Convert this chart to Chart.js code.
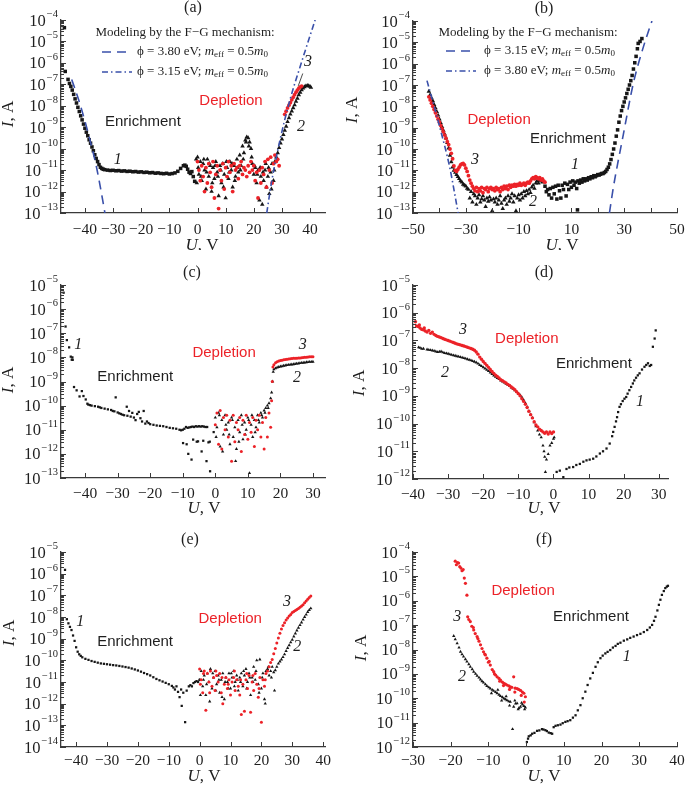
<!DOCTYPE html>
<html>
<head>
<meta charset="utf-8">
<script src="https://cdn.jsdelivr.net/npm/chart.js@4.4.1/dist/chart.umd.min.js"></script>
<style>
  body { margin: 0; background: #fff; }
  #wrap { position: relative; width: 685px; height: 787px; }
  canvas { position: absolute; }
</style>
</head>
<body>
<div id="wrap">
  <canvas id="pa" width="342" height="250" style="left:0;top:0"></canvas>
  <canvas id="pb" width="343" height="250" style="left:342px;top:0"></canvas>
  <canvas id="pc" width="342" height="270" style="left:0;top:250px"></canvas>
  <canvas id="pd" width="343" height="270" style="left:342px;top:250px"></canvas>
  <canvas id="pe" width="342" height="267" style="left:0;top:520px"></canvas>
  <canvas id="pf" width="343" height="267" style="left:342px;top:520px"></canvas>
</div>
<script>
// ---- data: [U (V), I (A)] ----

// (a)
const fitA_left = [[-44.7,1.7e-7],[-41.8,1.26e-8],[-38.2,2.5e-10],[-35.9,1.4e-11],[-34.1,8e-13],[-32.9,1e-13]];
const fitA_right = [[24.6,1e-13],[26.4,3.2e-12],[29.3,2.5e-10],[32.9,2e-8],[36.4,6.3e-7],[41.8,1e-4]];
const a1 = [[-47.3,4.4e-5],[-47.0,4.0e-7],[-46.0,1.7e-7],[-45.5,1.1e-7],[-45.0,8.0e-8],[-44.5,5.4e-8],[-44.0,3.4e-8],
  [-43.5,2.1e-8],[-43.0,1.35e-8],[-42.5,8.5e-9],[-42.0,5.4e-9],[-41.5,3.4e-9],[-41.0,2.2e-9],[-40.5,1.4e-9],[-40.0,9.0e-10],
  [-39.5,5.9e-10],[-39.0,4.0e-10],[-38.5,2.6e-10],[-38.0,1.8e-10],[-37.5,1.2e-10],[-37.0,8.0e-11],[-36.5,5.2e-11],[-36.0,3.5e-11],
  [-35.5,2.5e-11],[-35.0,1.8e-11],[-34.5,1.35e-11],[-34.0,1.2e-11],[-33.5,1.1e-11],[-33.0,1.05e-11],[-32.0,1.0e-11],[-31.0,9.6e-12],
  [-30.0,9.8e-12],[-29.0,9.3e-12],[-28.0,9.5e-12],[-27.0,9.0e-12],[-26.0,9.2e-12],[-25.0,8.7e-12],[-24.0,8.9e-12],[-23.0,8.4e-12],
  [-22.0,8.6e-12],[-21.0,8.1e-12],[-20.0,8.3e-12],[-19.0,7.8e-12],[-18.0,8.0e-12],[-17.0,7.5e-12],[-16.0,7.7e-12],[-15.0,7.2e-12],
  [-14.0,7.4e-12],[-13.0,7.0e-12],[-12.0,6.8e-12],[-11.0,7.1e-12],[-10.0,6.6e-12],[-9.0,6.9e-12],[-8.0,7.4e-12],[-7.0,8.8e-12],
  [-6.0,1.2e-11],[-5.0,1.6e-11],[-4.5,1.7e-11],[-4.0,1.5e-11],[-3.5,1.1e-11],[-3.0,8.0e-12],[-2.5,7.0e-12],[-2.0,8.5e-12],
  [-1.5,5.0e-12],[-1.0,3.0e-12]];
const a2 = [[-0.5,3.2e-11],[-0.25,2.5e-12],[0,4.0e-11],[0.5,6.3e-12],[1,2.5e-11],[1.5,3.2e-12],[2,2.0e-11],[2.5,1.0e-11],[3,1.3e-12],
  [3.5,3.2e-11],[4,5.0e-12],[4.5,1.6e-11],[5,1.0e-12],[5.5,1.3e-11],[6,4.0e-12],[6.5,2.5e-11],[7,7.9e-12],[7.5,6.3e-13],
  [8,1.6e-11],[8.5,2.5e-12],[9,2.0e-11],[9.5,6.3e-12],[10,5.0e-13],[10.5,1.3e-11],[11,4.0e-12],[11.5,2.5e-11],[12,1.0e-11],
  [12.5,1.6e-12],[13,1.6e-11],[13.5,5.0e-12],[14,3.2e-11],[14.5,7.9e-12],[15,5.0e-11],[15.5,1.6e-11],[16,1.3e-10],[16.5,6.3e-11],
  [17,2.5e-10],[17.5,3.5e-10],[18,3.2e-10],[18.5,2.0e-10],[19,1.0e-10],[19.5,2.0e-11],[20,6.3e-12],[20.5,1.3e-11],[21,2.5e-12],
  [21.5,1.0e-11],[22,4.0e-13],[22.5,5.0e-12],[23,2.5e-13],[23.5,3.2e-12],[24,1.0e-11],[24.5,1.6e-12],[25,5.0e-12],[25.5,7.9e-13],
  [26,7.9e-12],[26.5,2.0e-11],[27,3.2e-12],[27.5,2.5e-11],[28,4.0e-11],[28.5,6.3e-11],[29,1.1e-10],[29.5,1.8e-10],[30,2.8e-10],
  [30.5,4.5e-10],[31,7.1e-10],[31.5,1.1e-9],[32,1.8e-9],[32.5,2.7e-9],[33,4.0e-9],[33.5,5.6e-9],[34,7.9e-9],[34.5,1.1e-8],
  [35,1.6e-8],[35.5,2.2e-8],[36,3.2e-8],[36.5,4.2e-8],[37,5.4e-8],[37.5,6.6e-8],[38,7.6e-8],[38.5,8.3e-8],[39,8.7e-8],
  [39.5,8.5e-8],[40,7.9e-8],[40.3,7.1e-8],
  [0.25,1.3e-11],[1.25,5e-12],[2.25,3.2e-11],[3.25,7.9e-12],[4.25,2e-11],[5.25,2.5e-12],[6.25,1.6e-11],[7.25,5e-12],[8.25,1e-11],
  [9.25,1.6e-12],[10.25,2.5e-11],[11.25,7.9e-12],[12.25,2e-11],[13.25,3.2e-12],[14.25,1.3e-11],[15.25,1e-11],[16.25,3.2e-11],
  [17.25,2e-10],[18.25,1.3e-10],[19.25,4e-11],[20.25,1.6e-11],[21.25,6.3e-12],[22.25,1.3e-11],[23.25,7.9e-12],[24.25,2e-11],
  [25.25,1.3e-11],[26.25,1.3e-12],[27.25,1e-11]];
const a3 = [[0,2.5e-11],[0.5,1e-11],[1,3.2e-12],[1.5,1.6e-11],[2,5e-12],[2.5,1e-12],[3,1.3e-11],[3.5,2.5e-12],[4,2e-11],
  [4.5,7.9e-12],[5,1.6e-12],[5.5,2.5e-11],[6,5e-13],[6.5,6.3e-12],[7,1.6e-11],[7.5,1.6e-13],[8,1e-11],[8.5,3.2e-12],[9,2e-11],
  [9.5,1.3e-12],[10,1.3e-11],[10.5,5e-12],[11,2.5e-11],[11.5,7.9e-12],[12,1.6e-11],[12.5,1e-12],[13,2e-11],[13.5,1e-11],
  [14,1.3e-11],[14.5,4e-12],[15,1.6e-11],[15.5,2.5e-11],[16,6.3e-12],[16.5,1.3e-11],[17,1e-11],[17.5,5e-12],[18,1.6e-11],
  [18.5,7.9e-12],[19,2.5e-11],[19.5,1e-11],[20,1.6e-11],[20.5,3.2e-12],[21,7.9e-12],[21.5,5e-13],[22,1e-11],[22.5,2.5e-12],
  [23,1.3e-11],[23.5,6.3e-12],[24,2.5e-11],[24.5,1.6e-12],[25,3.2e-11],[25.5,1e-11],[26,4e-11],[26.5,2.5e-12],[27,2e-11],
  [27.5,5e-11],[28,2.5e-11],[28.5,3.2e-11],[29,1.6e-11],
  [31,4e-9],[31.5,5.6e-9],[32,7.9e-9],[32.5,1.07e-8],[33,1.4e-8],[33.5,1.9e-8],[34,2.5e-8],[34.5,3.3e-8],[35,4.3e-8],
  [35.5,5.4e-8],[36,6.6e-8],[36.5,7.6e-8],[37,8.3e-8]];

// (b)
const fitB_left = [[-44.7,1.6e-7],[-42.3,1.35e-8],[-39.9,1.1e-9],[-36.1,1.4e-11],[-32.9,1e-13]];
const fitB_right = [[24.4,1e-13],[25.9,1.6e-12],[29.7,5e-10],[33.5,1.26e-7],[37.3,6.3e-6],[40.5,1e-4]];
const b1 = [[0,1.8e-12],[0.5,1e-12],[1,1.26e-12],[1.5,7.1e-13],[2,1.4e-12],[2.5,5e-13],[3,1.6e-12],[3.5,7.9e-13],[4,1.8e-12],
  [4.5,4.5e-13],[5,2e-12],[5.5,1.1e-12],[6,5e-13],[6.5,2e-12],[7,1.26e-12],[7.5,2.5e-12],[8,6.3e-13],[8.5,2.2e-12],[9,1.26e-12],
  [9.5,2.8e-12],[10,1.6e-12],[10.5,3.2e-12],[11,2e-12],[11.5,2.8e-12],[12,1.4e-12],[12.3,1.4e-13],[12.5,3.2e-12],[13,2.5e-12],
  [13.5,3.5e-12],[14,2.8e-12],[14.5,4e-12],[15,3.2e-12],[15.5,4e-12],[16,3.5e-12],[16.5,4.5e-12],[17,4e-12],[17.5,5e-12],
  [18,4.5e-12],[18.5,5.6e-12],[19,5e-12],[19.5,5.6e-12],[20,6.3e-12],[20.5,6e-12],[21,6.6e-12],[21.5,7.1e-12],[22,7.1e-12],
  [22.5,7.9e-12],[23,8.9e-12],[23.5,1.1e-11],[24,1.4e-11],[24.5,2e-11],[25,3.2e-11],[25.5,5.6e-11],[26,1e-10],[26.5,1.9e-10],
  [27,4e-10],[27.5,7.9e-10],[28,1.8e-9],[28.5,3.5e-9],[29,6.3e-9],[29.5,1e-8],[30,1.6e-8],[30.5,2.5e-8],[31,4e-8],[31.5,6.3e-8],
  [32,1e-7],[32.5,1.6e-7],[33,2.8e-7],[33.5,5.6e-7],[34,1.1e-6],[34.5,2.2e-6],[35,5e-6],[35.3,8.9e-6],[36,1.1e-5],[36.7,1.5e-5]];
const b2 = [[-44,5e-8],[-43.5,3.5e-8],[-43,2.5e-8],[-42.5,1.8e-8],[-42,1.2e-8],[-41.5,8.3e-9],[-41,5.6e-9],[-40.5,3.8e-9],
  [-40,2.5e-9],[-39.5,1.66e-9],[-39,1.1e-9],[-38.5,7.4e-10],[-38,5e-10],[-37.5,3.2e-10],[-37,2e-10],[-36.5,1.1e-10],[-36,5e-11],
  [-35.5,2.5e-11],[-35,1.4e-11],[-34.5,1e-11],[-34,7.9e-12],[-33.5,6.3e-12],[-33,5e-12],[-32.5,4e-12],[-32,3.2e-12],[-31.5,2.8e-12],
  [-31,2.2e-12],[-30.5,2e-12],[-30,1.8e-12],[-29.5,1.4e-12],[-29,1.26e-12],[-28,1e-12],[-27,7.9e-13],
  [-28.5,5e-13],[-27.5,3.2e-13],[-26.5,6.3e-13],[-26,2.5e-13],[-25.5,5e-13],[-25,7.1e-13],[-24.5,3.2e-13],[-24,4.5e-13],
  [-23.5,6.3e-13],[-23,4e-13],[-22.5,2e-13],[-22,5e-13],[-21.5,3.5e-13],[-21,5.6e-13],[-20.5,4e-13],[-20,1.26e-13],[-19.5,4.5e-13],
  [-19,3.2e-13],[-18.5,5e-13],[-18,2.5e-13],[-17.5,4e-13],[-17,6.3e-13],[-16.5,2.8e-13],[-16,1.6e-13],[-15.5,4e-13],[-15,5e-13],
  [-14.5,2.5e-13],[-14,6.3e-13],[-13.5,3.5e-13],[-13,5e-13],[-12.5,7.9e-13],[-12,3.2e-13],[-11.5,6.3e-13],[-11,1.26e-13],
  [-10.5,5e-13],[-10,7.1e-13],[-9.5,4e-13],[-9,7.9e-13],[-8.5,5e-13],[-8,1e-12],[-7.5,6.3e-13],[-7,1.1e-12],[-6.5,7.9e-13],
  [-6,1.26e-12],[-5.5,8.9e-13],[-5,1.6e-12],[-4.5,2e-12],[-4,1.4e-12],[-3.5,2.5e-12],[-3,3.2e-12],[-2.5,2.5e-12],[-2,3.5e-12],
  [-1.5,3.2e-12],[-1,2.8e-12]];
const b3 = [[-44,2.8e-8],[-43.5,2e-8],[-43,1.4e-8],[-42.5,1e-8],[-42,7.1e-9],[-41.5,5e-9],[-41,3.5e-9],[-40.5,2.5e-9],[-40,1.8e-9],
  [-39.5,1.26e-9],[-39,8.9e-10],[-38.5,6.3e-10],[-38,4.5e-10],[-37.5,3.2e-10],[-37,2.2e-10],[-36.5,1.6e-10],[-36,1e-10],
  [-35.5,6.3e-11],[-35,3.5e-11],[-34.5,1.6e-11],[-34,1e-11],[-33.5,8.9e-12],[-33,1.1e-11],[-32.5,1.4e-11],[-32,1.8e-11],
  [-31.5,2e-11],[-31,2.1e-11],[-30.5,1.8e-11],[-30,1.26e-11],[-29.5,8.9e-12],[-29,5.6e-12],[-28.5,3.5e-12],[-28,2.5e-12],
  [-27.5,1.8e-12],[-27,1.4e-12],[-26.5,1.1e-12],[-26,1.6e-12],[-25.5,1e-12],[-25,1.4e-12],[-24.5,1.1e-12],[-24,1.6e-12],
  [-23.5,8.9e-13],[-23,1.4e-12],[-22.5,1.26e-12],[-22,1.6e-12],[-21.5,1e-12],[-21,1.4e-12],[-20.5,1.6e-12],[-20,1.26e-12],
  [-19.5,1.4e-12],[-19,1.1e-12],[-18.5,1.6e-12],[-18,1.26e-12],[-17.5,1.4e-12],[-17,1e-12],[-16.5,1.6e-12],[-16,1.26e-12],
  [-15.5,1.8e-12],[-15,1.4e-12],[-14.5,1.8e-12],[-14,1.26e-12],[-13.5,2e-12],[-13,1.6e-12],[-12.5,2e-12],[-12,1.8e-12],
  [-11.5,2.2e-12],[-11,1.8e-12],[-10.5,2.2e-12],[-10,2e-12],[-9.5,2.5e-12],[-9,2e-12],[-8.5,2.2e-12],[-8,2.5e-12],[-7.5,2e-12],
  [-7,2.5e-12],[-6.5,2.8e-12],[-6,2.5e-12],[-5.5,3.2e-12],[-5,4e-12],[-4.5,4.5e-12],[-4,4e-12],[-3.5,5e-12],[-3,4.5e-12],
  [-2.5,4e-12],[-2,4.5e-12],[-1.5,3.5e-12],[-1,4e-12],[-0.5,3.2e-12],[0,2.8e-12]];

// (c)
const c1 = [[-46.6,4.8e-6],[-46.0,1.9e-7],[-45.6,5.2e-8],[-44.9,2.6e-8],[-44.4,1.07e-8],[-44.1,8e-9],[-43.8,7.9e-9],[-43.9,1e-8],
  [-43.4,5.9e-10],[-42.6,4.3e-10],[-41.7,2.4e-10],[-41.0,4e-10],[-40.5,2.5e-10],[-39.8,1.8e-10],[-39.3,1.2e-10],
  [-39,1.1e-10],[-38.5,1.05e-10],[-38,1e-10],[-37,9.5e-11],[-36,9e-11],[-35.5,8.5e-11],[-35,8e-11],[-34,7.5e-11],[-33,7e-11],
  [-32,6.6e-11],[-31.5,6e-11],[-31,5.8e-11],[-30.6,2.2e-10],[-30,5.2e-11],[-29.5,4.8e-11],[-29,4.5e-11],[-28.5,4.2e-11],
  [-28,4e-11],[-27.2,9e-11],[-26.5,6e-11],[-27,3.8e-11],[-26,3.5e-11],[-25.5,5e-11],[-25,3.2e-11],[-24.5,2.5e-11],[-24,4.5e-11],
  [-23.5,5.5e-11],[-23,3e-11],[-22.5,2.2e-11],[-22,6e-11],[-21.5,1.8e-11],[-21,2.2e-11],[-20.5,1.9e-11],[-20,1.7e-11],
  [-19,1.6e-11],[-18,1.5e-11],[-17,1.45e-11],[-16,1.4e-11],[-15,1.3e-11],[-14,1.2e-11],[-13,1.15e-11],[-12,1.1e-11],[-11,1e-11],
  [-10.5,9.5e-12],[-10,1e-11],[-9.5,1.1e-11],[-9,1.3e-11],[-8.5,1.2e-11],[-8,1.25e-11],[-7.5,1.3e-11],[-7,1.35e-11],[-6.5,1.3e-11],
  [-6,1.4e-11],[-5.5,1.35e-11],[-5,1.4e-11],[-4.5,1.35e-11],[-4,1.4e-11],[-3.5,1.35e-11],[-3,1.3e-11],[-2.5,1.3e-11],
  [-9.9,2.8e-12],[-8.8,2.5e-12],[-8.3,1e-12],[-7.3,5.8e-13],[-6.8,3.9e-12],[-5.7,3.2e-12],[-5.3,3.3e-12],[-4.2,1.26e-12],
  [-3.7,3.5e-12],[-2.7,5e-13],[-2.1,3e-12],[-1.7,3.2e-12],[-1.6,1.9e-13],[-0.5,8e-12]];
const c2 = [[0,3.2e-11],[0.5,1.26e-11],[1,5e-11],[1.5,2e-12],[2,2.5e-11],[2.5,6.3e-12],[3,4e-11],[3.5,1e-11],[4,2e-11],
  [4.5,2.5e-12],[5,3.2e-11],[5.5,5e-12],[6,1.26e-11],[6.5,1.6e-12],[7,2.5e-11],[7.5,7.9e-12],[8,4e-11],[8.5,4e-12],[9,2e-11],
  [9.5,1e-11],[10,3.2e-11],[10.5,1.6e-13],[11,1.6e-11],[11.5,5e-12],[12,2.5e-11],[12.5,1.26e-11],[13,4e-11],[13.5,2e-11],
  [14,5e-11],[14.5,3.2e-11],[15,6.3e-11],[15.5,7.9e-11],[16,1e-10],[16.5,1.26e-10],[17,2e-10],[17.3,3.5e-10],[17.6,1e-9],
  [17.8,2.5e-9],[18,3.2e-9],[18.5,3.5e-9],[19,3.8e-9],[19.5,4e-9],[20,4.2e-9],[20.5,4.3e-9],[21,4.5e-9],[21.5,4.6e-9],
  [22,4.8e-9],[22.5,4.9e-9],[23,5e-9],[23.5,5.1e-9],[24,5.2e-9],[24.5,5.35e-9],[25,5.5e-9],[25.5,5.6e-9],[26,5.8e-9],
  [26.5,5.9e-9],[27,6e-9],[27.5,6.1e-9],[28,6.3e-9],[28.5,6.4e-9],[29,6.5e-9],[29.5,6.55e-9],[30,6.6e-9],
  [0.25,5e-12],[1.25,4e-11],[2.25,1.26e-12],[3.25,1.6e-11],[4.25,6.3e-12],[5.25,2.5e-11],[6.25,5e-13],[7.25,3.2e-12],
  [8.25,1.6e-11],[9.25,6.3e-12],[10.25,2.5e-11],[11.25,4e-11],[12.25,7.9e-12],[13.25,2.5e-11],[14.25,4e-11],[15.25,5e-11],
  [16.25,7.9e-11]];
const c3 = [[0,1.6e-11],[0.5,5e-11],[1,2.5e-12],[1.5,6.3e-11],[2,1.6e-12],[2.5,3.2e-11],[3,1e-11],[3.5,4e-11],[4,5e-12],
  [4.5,2.5e-11],[5,5e-13],[5.5,4e-11],[6,3.2e-12],[6.5,2e-11],[7,1e-11],[7.5,3.2e-11],[8,1.26e-12],[8.5,2.5e-11],[9,6.3e-12],
  [9.5,4e-11],[10,4e-12],[10.5,2e-11],[11,7.9e-12],[11.5,3.2e-11],[12,2e-12],[12.5,2.5e-11],[13,1e-11],[13.5,4e-11],[14,5e-12],
  [14.5,2e-11],[15,1.6e-12],[15.5,3.2e-11],[16,5e-12],[16.5,5e-11],[17,1.26e-11],[17.3,1.6e-10],[17.5,1e-9],[17.7,4e-9],
  [18,5e-9],[18.5,6e-9],[19,6.6e-9],[19.5,7.1e-9],[20,7.4e-9],[20.5,7.6e-9],[21,7.9e-9],[21.5,8.1e-9],[22,8.3e-9],[22.5,8.5e-9],
  [23,8.7e-9],[23.5,8.9e-9],[24,9.1e-9],[24.5,9.2e-9],[25,9.3e-9],[25.5,9.4e-9],[26,9.5e-9],[26.5,9.7e-9],[27,1e-8],
  [27.5,1.01e-8],[28,1.02e-8],[28.5,1.03e-8],[29,1.05e-8],[29.5,1.06e-8],[30,1.07e-8]];

// (d)
const d1 = [[0.9,1.8e-12],[1.8,2e-12],[2.8,1.17e-12],[3.7,2.3e-12],[4.5,2.6e-12],[5.6,2.7e-12],[6.5,3.2e-12],[7.5,3.5e-12],
  [8.5,4.2e-12],[9.4,4.7e-12],[10.3,5e-12],[11.3,5.4e-12],[12.2,6.5e-12],[13.2,8.3e-12],[14.1,1e-11],[15.1,1.26e-11],[16,1.9e-11],
  [16.7,3.5e-11],[17.0,5e-11],[17.4,7.6e-11],[17.8,1.2e-10],[18.1,1.7e-10],[18.4,2.6e-10],[18.8,4e-10],[19.2,5e-10],[19.7,6.5e-10],
  [20.2,7.9e-10],[20.7,9.1e-10],[21.1,1.2e-9],[21.6,1.6e-9],[22.1,2.1e-9],[22.6,2.8e-9],[23.0,3.6e-9],[23.5,4.5e-9],[24.0,5.5e-9],
  [24.5,6.5e-9],[25.2,8.9e-9],[25.9,1.12e-8],[26.4,1.3e-8],[26.9,1.5e-8],[27.4,1.2e-8],[27.8,1.3e-8],[28.3,5.9e-8],
  [28.8,1.17e-7],[29.1,2.3e-7]];
const d2 = [[-38.4,5.6e-8],[-38,5.4e-8],[-37.5,5e-8],[-37,5e-8],[-36,4.7e-8],[-35.5,4.6e-8],[-35,4.5e-8],[-34.5,4.35e-8],
  [-34,4.2e-8],[-33.5,4e-8],[-33,3.8e-8],[-32.5,3.9e-8],[-32,4e-8],[-31.5,3.7e-8],[-31,3.5e-8],[-30.5,3.4e-8],[-30,3.3e-8],
  [-29.5,3.15e-8],[-29,3e-8],[-28.5,2.9e-8],[-28,2.8e-8],[-27.5,2.7e-8],[-27,2.6e-8],[-26.5,2.5e-8],[-26,2.4e-8],[-25.5,2.3e-8],
  [-25,2.2e-8],[-24.5,2.1e-8],[-24,2e-8],[-23.5,1.9e-8],[-23,1.8e-8],[-22.5,1.7e-8],[-22,1.6e-8],[-21.5,1.45e-8],[-21,1.3e-8],
  [-20.5,1.18e-8],[-20,1.07e-8],[-19.5,9.7e-9],[-19,8.7e-9],[-18.5,7.8e-9],[-18,6.9e-9],[-17.5,6.1e-9],[-17,5.4e-9],
  [-16.5,4.9e-9],[-16,4.4e-9],[-15.5,4e-9],[-15,3.6e-9],[-14.5,3.3e-9],[-14,3e-9],[-13.5,2.75e-9],[-13,2.5e-9],[-12.5,2.25e-9],
  [-12,2e-9],[-11.5,1.8e-9],[-11,1.6e-9],[-10.5,1.4e-9],[-10,1.2e-9],[-9.5,1.05e-9],[-9,8.9e-10],[-8.5,7.1e-10],[-8,5.4e-10],
  [-7.5,4e-10],[-7,2.8e-10],[-6.5,2.1e-10],[-6,1.6e-10],[-5.5,1.1e-10],[-5,7.9e-11],[-4.5,5.6e-11],[-4,4e-11],[-3.5,3.2e-11],
  [-3,1.6e-11],[-2.7,1e-11],[-2.5,6.3e-12],[-2.3,1.8e-12],[-2,5e-12],[-1.5,7.9e-12],[-1,1.6e-11],[-0.5,2e-11],[0,2.8e-11],
  [0.2,3.2e-11]];
const d3 = [[-39.3,4.7e-7],[-39,3.3e-7],[-38.5,3.2e-7],[-38.2,3.6e-7],[-38,2.8e-7],[-37.5,2.5e-7],[-37,2.4e-7],[-36.8,2.8e-7],
  [-36.5,2.2e-7],[-36,2e-7],[-35.5,2.3e-7],[-35,1.8e-7],[-34.5,2e-7],[-34,1.66e-7],[-33.5,1.5e-7],[-33,1.4e-7],[-32.5,1.33e-7],
  [-32,1.26e-7],[-31.5,1.18e-7],[-31,1.1e-7],[-30.5,1.05e-7],[-30,1e-7],[-29.5,9.4e-8],[-29,8.9e-8],[-28.5,8.4e-8],[-28,7.9e-8],
  [-27.5,7.5e-8],[-27,7.2e-8],[-26.5,6.9e-8],[-26,6.6e-8],[-25.5,6.3e-8],[-25,6e-8],[-24.5,5.7e-8],[-24,5.4e-8],[-23.5,5.1e-8],
  [-23,4.8e-8],[-22.5,4.4e-8],[-22,3.8e-8],[-21.5,3.2e-8],[-21,2.5e-8],[-20.5,2.1e-8],[-20,1.74e-8],[-19.5,1.48e-8],[-19,1.26e-8],
  [-18.5,1.07e-8],[-18,8.9e-9],[-17.5,7.6e-9],[-17,6.5e-9],[-16.5,5.6e-9],[-16,5e-9],[-15.5,4.4e-9],[-15,3.8e-9],[-14.5,3.5e-9],
  [-14,3.2e-9],[-13.5,2.9e-9],[-13,2.6e-9],[-12.5,2.35e-9],[-12,2.1e-9],[-11.5,1.9e-9],[-11,1.66e-9],[-10.5,1.4e-9],[-10,1.2e-9],
  [-9.5,1e-9],[-9,7.9e-10],[-8.5,6.3e-10],[-8,5e-10],[-7.5,3.8e-10],[-7,2.8e-10],[-6.5,2.1e-10],[-6,1.6e-10],[-5.5,1.17e-10],
  [-5,8.9e-11],[-4.5,7.6e-11],[-4,6.3e-11],[-3.5,5.6e-11],[-3,5e-11],[-2.5,4.5e-11],[-2,5e-11],[-1.5,4.2e-11],[-1,5e-11],
  [-0.5,4.4e-11],[0,5e-11]];

// (e)
const e1 = [[-43.6,1.5e-6],[-43,7.9e-9],[-42.5,5.1e-9],[-42,3.5e-9],[-41.5,2.5e-9],[-41,1.4e-9],[-40.5,7.9e-10],[-40,4e-10],
  [-39.5,2.5e-10],[-39,1.9e-10],[-38.5,1.6e-10],[-38,1.38e-10],[-37,1.17e-10],[-36,1.05e-10],[-35,9.3e-11],[-34,8.5e-11],
  [-33,7.8e-11],[-32,7.2e-11],[-31,6.9e-11],[-30,6.6e-11],[-29,6.3e-11],[-28,6e-11],[-27,5.8e-11],[-26,5.5e-11],[-25,5.2e-11],
  [-24,4.9e-11],[-23,4.6e-11],[-22,4.2e-11],[-21,3.8e-11],[-20,3.4e-11],[-19,3e-11],[-18,2.6e-11],[-17,2.3e-11],[-16,2e-11],
  [-15,1.66e-11],[-14,1.38e-11],[-13,1.2e-11],[-12,1.05e-11],[-11,9.1e-12],[-10,7.9e-12],[-9,6.6e-12],[-8.5,5.6e-12],
  [-8,4.5e-12],[-7.5,6.3e-12],[-7,3.5e-12],[-6.5,2e-12],[-6,4.5e-12],[-5.8,7.9e-13],[-5.3,3.2e-12],[-4.7,1.4e-13],[-4.2,4e-12],
  [-3.5,6.3e-12],[-3,7.1e-12],[-2.5,6.3e-12],[-2,8.9e-12],[-1.5,1e-11],[-1,1.1e-11],[-0.5,1e-11],[0,1.26e-11]];
const e2 = [[0,1.26e-11],[0.5,3.2e-11],[1,6.3e-12],[1.5,2e-11],[2,2.5e-12],[2.5,2.5e-11],[3,1e-11],[3.5,4e-11],[4,5e-12],
  [4.5,1.6e-11],[5,3.2e-11],[5.5,7.9e-12],[6,2e-11],[6.5,3.2e-12],[7,1.26e-11],[7.5,2.5e-11],[8,1.6e-12],[8.5,1.6e-11],[9,1e-11],
  [9.5,2.5e-11],[10,5e-12],[10.5,1.6e-11],[11,3.2e-11],[11.5,1e-11],[12,2e-11],[12.5,4e-12],[13,1.6e-11],[13.5,2.5e-11],
  [14,6.3e-12],[14.5,2e-11],[15,4e-11],[15.5,1e-11],[16,2.5e-11],[16.5,2.5e-12],[17,1.6e-11],[17.5,5e-11],[18,1.26e-11],
  [18.5,1e-10],[19,7.9e-12],[19.5,1.1e-10],[20,5e-12],[20.5,2.5e-11],[21,1.6e-12],[21.5,3.2e-11],[22,4e-11],[22.5,2e-11],
  [23,3.2e-11],[23.5,5e-11],[24,2.8e-11],[24.5,3.5e-11],[25,5e-11],[25.5,7.1e-11],[26,8.9e-11],[26.5,1.1e-10],[27,1.4e-10],
  [27.5,1.9e-10],[28,2.7e-10],[28.5,3.7e-10],[29,5e-10],[29.5,6.8e-10],[30,8.9e-10],[30.5,1.26e-9],[31,1.74e-9],[31.5,2.4e-9],
  [32,3.2e-9],[32.5,4.2e-9],[33,5.6e-9],[33.5,7.6e-9],[34,1e-8],[34.5,1.3e-8],[35,1.7e-8],[35.5,2.1e-8],[36,2.5e-8],
  [0.25,2.5e-12],[1.25,1.26e-11],[2.25,7.9e-12],[3.25,1.26e-12],[4.25,2.5e-11],[5.25,4e-12],[6.25,1.26e-11],[7.25,2e-12],
  [8.25,1e-11],[9.25,5e-12],[10.25,2.5e-11],[11.25,6.3e-12],[12.25,1.26e-11],[13.25,1e-11],[14.25,3.2e-11],[15.25,5e-12],
  [16.25,1.6e-11],[17.25,1e-11],[18.25,3.2e-11],[19.25,3.2e-12],[20.25,1.6e-11],[21.25,1e-12],[22.25,5e-11],[23.25,1.6e-11],
  [24.25,4e-12]];
const e3 = [[0,4e-11],[0.5,1.26e-11],[1,3.2e-12],[1.5,3.2e-11],[2,5e-13],[2.5,2.5e-11],[3,1e-11],[3.5,3.2e-11],[4,6.3e-12],
  [4.5,1.6e-11],[5,4e-12],[5.5,2e-11],[6,1e-11],[6.5,2.5e-11],[7,3.2e-12],[7.5,1e-12],[8,7.9e-12],[8.5,1.6e-11],[9,5e-12],
  [9.5,1.26e-11],[10,2.5e-12],[10.5,1e-11],[11,1.6e-11],[11.5,4e-12],[12,1.26e-11],[12.5,6.3e-12],[13,2.5e-12],[13.5,3.2e-13],
  [14,7.9e-12],[14.5,4.5e-13],[15,1.26e-11],[15.5,5e-12],[16,2e-11],[16.5,4e-13],[17,1e-11],[17.5,4e-12],[18,2.5e-11],
  [18.5,7.9e-12],[19,2e-12],[19.5,1.6e-11],[20,1.4e-13],[20.5,1.26e-11],[21,6.3e-12],[21.5,2.5e-11],[22,3.2e-11],[22.5,5e-11],
  [23,7.9e-11],[23.5,1.1e-10],[24,2e-10],[24.5,3.5e-10],[25,6.3e-10],[25.5,1.07e-9],[26,1.8e-9],[26.5,2.8e-9],[27,4e-9],
  [27.5,5.5e-9],[28,7.2e-9],[28.5,9.1e-9],[29,1.1e-8],[29.5,1.3e-8],[30,1.6e-8],[30.5,1.8e-8],[31,2e-8],[31.5,2.2e-8],
  [32,2.5e-8],[32.5,2.8e-8],[33,3.2e-8],[33.5,3.7e-8],[34,4.5e-8],[34.5,5.5e-8],[35,6.6e-8],[35.5,7.9e-8],[36,9.3e-8],
  [0.25,7.9e-12],[1.25,2.5e-11],[3.25,3.2e-12],[5.25,3.2e-11],[7.25,1.6e-11],[9.25,7.9e-12],[11.25,3.2e-11],[13.25,1.26e-11],
  [15.25,2.5e-11],[17.25,2e-11],[19.25,5e-12],[21.25,1.26e-11]];

// (f)
const f1 = [[0.2,1.6e-12],[0.5,2.2e-12],[0.7,2.75e-12],[1.2,3e-12],[1.6,3.5e-12],[2.2,3.8e-12],[2.9,4.6e-12],[3.5,4.8e-12],
  [4.2,5.4e-12],[4.6,5.2e-12],[5.1,4.9e-12],[5.5,4.5e-12],[6.0,3.9e-12],[6.5,3.7e-12],[6.9,3.5e-12],[7.3,6.5e-12],[7.8,7.4e-12],
  [8.4,7.8e-12],[9.1,8.3e-12],[9.7,9.5e-12],[10.4,1.07e-11],[11.0,1.15e-11],[11.7,1.26e-11],[12.4,1.6e-11],[13.1,2e-11],
  [13.7,3.2e-11],[14.4,5.2e-11],[15.0,1e-10],[15.7,1.86e-10],[16.3,3.5e-10],[17.0,6.5e-10],[17.7,1.1e-9],[18.4,1.95e-9],
  [19.0,3e-9],[19.7,4.4e-9],[20.3,5.6e-9],[21.0,6.9e-9],[21.6,8e-9],[22.3,9.5e-9],[23.0,1.2e-8],[23.7,1.4e-8],[24.3,1.7e-8],
  [25.0,1.9e-8],[25.9,2.3e-8],[26.8,2.6e-8],[27.6,3e-8],[28.5,3.4e-8],[29.4,3.9e-8],[30.3,4.4e-8],[31.2,5.2e-8],[32.1,6.3e-8],
  [32.8,8e-8],[33.4,1.02e-7],[33.9,1.5e-7],[34.3,2.2e-7],[34.8,4e-7],[35.2,6.8e-7],[35.6,1.1e-6],[36.0,1.74e-6],[36.5,2.5e-6],
  [36.9,3.3e-6],[37.3,3.8e-6],[37.6,4.1e-6]];
const f2 = [[-19.2,3.6e-8],[-18.8,2.6e-8],[-18.3,1.8e-8],[-17.8,1.2e-8],[-17.4,8.1e-9],[-17.0,6.3e-9],[-16.6,5.1e-9],[-16.1,4e-9],
  [-15.7,3.2e-9],[-15.2,2.5e-9],[-14.8,1.95e-9],[-14.3,1.55e-9],[-13.9,1.23e-9],[-13.4,1e-9],[-13.0,8.3e-10],[-12.5,7e-10],
  [-12.1,5.9e-10],[-11.7,5e-10],[-11.3,4.4e-10],[-10.8,3.7e-10],[-10.4,3.2e-10],[-9.9,2.8e-10],[-9.5,2.5e-10],[-9.0,2.2e-10],
  [-8.6,2e-10],[-8.1,1.8e-10],[-7.7,1.6e-10],[-7.2,1.4e-10],[-6.8,1.23e-10],[-6.3,1.1e-10],[-5.9,9.8e-11],[-5.5,9e-11],
  [-5.1,8.3e-11],[-4.6,7.5e-11],[-4.2,7.1e-11],[-3.6,5.4e-12],[-3.3,4.5e-11],[-2.8,6e-11],[-2.4,6.2e-11],[-1.9,4e-11],
  [-1.5,4.5e-11],[-1.0,5.5e-11],[-0.6,4.8e-11],[-0.2,4.2e-11],
  [-9.2,1.6e-10],[-7.5,2.2e-10],[-6.5,8e-11],[-5.3,1.2e-10],[-4.4,5e-11],[-3.0,8e-11],[-2.1,3.5e-11],[-1.2,6.5e-11],[-0.4,3.5e-11]];
const f3 = [[-18.8,4.2e-5],[-18.5,3e-5],[-18.2,3.7e-5],[-17.9,3.5e-5],[-17.6,2.5e-5],[-17.3,2.2e-5],[-17.0,1.7e-5],[-16.7,1.9e-5],
  [-16.4,8.5e-6],[-16.1,5.2e-6],[-15.7,1.7e-6],[-15.5,2.2e-7],[-15.2,1.7e-7],[-14.8,1.4e-7],[-14.4,9e-8],[-13.9,6.3e-8],
  [-13.5,4.5e-8],[-13.0,3.4e-8],[-12.5,2.2e-8],[-12.1,1.55e-8],[-11.7,1.1e-8],[-11.3,8.1e-9],[-10.8,6e-9],[-10.4,4.4e-9],
  [-10.0,3e-9],[-9.5,2.3e-9],[-9.0,1.5e-9],[-8.6,1.23e-9],[-8.1,9e-10],[-7.7,7.6e-10],[-7.2,6.5e-10],[-6.8,5.6e-10],[-6.3,4.6e-10],
  [-5.9,4.1e-10],[-5.5,3.8e-10],[-5.1,3.5e-10],[-4.6,3.2e-10],[-4.2,2.95e-10],[-3.8,2.8e-10],[-3.3,7.6e-10],[-2.9,2.6e-10],
  [-2.4,2.5e-10],[-2.0,2.3e-10],[-1.5,2.1e-10],[-1.0,1.8e-10],[-0.6,1.6e-10],[-0.2,1.15e-10],
  [-14.0,8e-8],[-12.8,2.8e-8],[-11.0,6.5e-9],[-9.8,3.3e-9],[-8.4,1e-9],[-7.0,5e-10],[-6.0,3.3e-10],[-4.4,2.3e-10],[-3.0,1.8e-10],
  [-1.3,1.3e-10],[-0.5,7e-11]];

// ---- text placed on the panels: [text, U, I, kind] ----
const notesA = [['Enrichment',-19.4,1.7e-9,'e'],['Depletion',11.9,1.66e-8,'d'],['1',-28.3,3e-11,'n'],['3',39.3,1.1e-6,'n'],['2',36.8,1e-9,'n']];
const notesB = [['Depletion',-17.4,2.3e-9,'d'],['Enrichment',8.7,3e-10,'e'],['3',-26.5,3e-11,'n'],['1',11.4,1.8e-11,'n'],['2',-4.5,3.3e-13,'n']];
const notesC = [['Depletion',2.7,1.5e-8,'d'],['Enrichment',-24.6,1.55e-9,'e'],['1',-42.1,3.2e-8,'n'],['3',26.9,3.2e-8,'n'],['2',25.1,1.4e-9,'n']];
const notesD = [['Depletion',-7.6,1.1e-7,'d'],['Enrichment',11.5,1.4e-8,'e'],['3',-25.8,2.4e-7,'n'],['2',-30.9,6.6e-9,'n'],['1',24.6,6e-10,'n']];
const notesE = [['Depletion',9.9,8.1e-9,'d'],['Enrichment',-20.9,7.1e-10,'e'],['1',-38.7,5.9e-9,'n'],['3',28.3,4.9e-8,'n'],['2',31.6,4.2e-10,'n']];
const notesF = [['Depletion',-0.8,2.5e-6,'d'],['Enrichment',17.2,2.1e-7,'e'],['3',-18.3,2.1e-7,'n'],['2',-17,7.4e-10,'n'],['1',26.7,4.9e-9,'n']];

// ---- styling ----
const BLACK = '#161616', RED = 'rgb(236,34,40)', BLUE = 'rgb(58,80,170)', AXIS = '#3a3a3a', TEXT = '#1e1e1e';
const SERIF = '"Liberation Serif", "Times New Roman", serif';
const SANS = '"Liberation Sans", Arial, sans-serif';
const DASH = [9, 6], DOT = [6, 3, 1.5, 3];

function pts(arr) { return arr.map(p => ({ x: p[0], y: p[1] })); }

function marks(arr, style, color, r) {
  return { data: pts(arr), pointStyle: style, pointRadius: r, backgroundColor: color, borderColor: color,
           borderWidth: 0, showLine: false };
}

function fit(arr, dash) {
  return { data: pts(arr), showLine: true, pointRadius: 0, borderColor: BLUE, borderWidth: 1.6, borderDash: dash,
           cubicInterpolationMode: 'monotone', fill: false };
}

function rich(ctx, segs, x, y, align) {
  let w = 0;
  segs.forEach(s => { ctx.font = s[1]; w += ctx.measureText(s[0]).width; });
  let cx = align === 'center' ? x - w / 2 : x;
  ctx.textAlign = 'left';
  ctx.textBaseline = 'middle';
  segs.forEach(s => {
    ctx.font = s[1];
    ctx.fillText(s[0], cx, y + (s[2] || 0));
    cx += ctx.measureText(s[0]).width;
  });
}

const decor = {
  id: 'decor',
  afterDraw(chart) {
    const p = chart.config.options.panel;
    const { ctx, chartArea: ca } = chart;
    const x = chart.scales.x, y = chart.scales.y;
    ctx.save();

    // inward tick marks
    ctx.strokeStyle = AXIS;
    ctx.lineWidth = 1;
    ctx.beginPath();
    const e0 = Math.round(Math.log10(y.min)), e1 = Math.round(Math.log10(y.max));
    for (let e = e0; e <= e1; e++) {
      for (let m = 1; m < 10; m++) {
        if (e === e1 && m > 1) break;
        const py = Math.round(y.getPixelForValue(m * Math.pow(10, e))) + 0.5;
        ctx.moveTo(ca.left, py);
        ctx.lineTo(ca.left + (m === 1 ? 5 : 3), py);
      }
    }
    x.ticks.forEach(t => {
      const px = Math.round(x.getPixelForValue(t.value)) + 0.5;
      ctx.moveTo(px, ca.bottom);
      ctx.lineTo(px, ca.bottom - 5);
    });
    ctx.stroke();

    // y tick labels 10^n
    ctx.fillStyle = TEXT;
    ctx.textAlign = 'left';
    ctx.textBaseline = 'alphabetic';
    for (let e = e0; e <= e1; e++) {
      const py = y.getPixelForValue(Math.pow(10, e));
      const sup = '\u2212' + Math.abs(e);
      ctx.font = '10.5px ' + SERIF;
      const sw = ctx.measureText(sup).width;
      ctx.font = '16.5px ' + SERIF;
      const bw = ctx.measureText('10').width;
      const xr = ca.left - 3;
      ctx.fillText('10', xr - sw - bw - 1, py + 5.5);
      ctx.font = '10.5px ' + SERIF;
      ctx.fillText(sup, xr - sw, py - 3);
    }

    // panel letter and axis titles
    ctx.font = '16px ' + SERIF;
    ctx.textAlign = 'center';
    ctx.textBaseline = 'middle';
    ctx.fillText(p.letter, p.letterX, ca.top - 12);
    rich(ctx, [['U', 'italic 17px ' + SERIF], [', V', '17px ' + SERIF]], p.uPos[0], p.uPos[1], 'center');
    ctx.save();
    ctx.translate(p.iPos[0], p.iPos[1]);
    ctx.rotate(-Math.PI / 2);
    rich(ctx, [['I', 'italic 17px ' + SERIF], [', A', '17px ' + SERIF]], 0, 0, 'center');
    ctx.restore();

    // notes
    p.notes.forEach(n => {
      const px = x.getPixelForValue(n[1]), py = y.getPixelForValue(n[2]);
      ctx.textAlign = 'center';
      ctx.textBaseline = 'middle';
      if (n[3] === 'n') { ctx.font = 'italic 16px ' + SERIF; ctx.fillStyle = TEXT; }
      else { ctx.font = '15px ' + SANS; ctx.fillStyle = n[3] === 'd' ? RED : TEXT; }
      ctx.fillText(n[0], px, py);
    });
    if (p.leader) {
      ctx.strokeStyle = TEXT;
      ctx.lineWidth = 0.8;
      ctx.beginPath();
      ctx.moveTo(x.getPixelForValue(p.leader[0][0]), y.getPixelForValue(p.leader[0][1]));
      ctx.lineTo(x.getPixelForValue(p.leader[1][0]), y.getPixelForValue(p.leader[1][1]));
      ctx.stroke();
    }

    // model legend
    if (p.legend) {
      const L = p.legend;
      ctx.fillStyle = TEXT;
      ctx.font = '13px ' + SERIF;
      ctx.textAlign = 'center';
      ctx.textBaseline = 'middle';
      ctx.fillText('Modeling by the F\u2212G mechanism:', L.titleX, L.titleY);
      L.rows.forEach(r => {
        ctx.strokeStyle = BLUE;
        ctx.lineWidth = 1.6;
        ctx.setLineDash(r.dash);
        ctx.beginPath();
        ctx.moveTo(L.sx0, r.y);
        ctx.lineTo(L.sx1, r.y);
        ctx.stroke();
        ctx.setLineDash([]);
        ctx.fillStyle = TEXT;
        rich(ctx, [['\u03d5 = ' + r.phi + ' eV; ', '13px ' + SERIF], ['m', 'italic 13px ' + SERIF],
                   ['eff', '9px ' + SERIF, 3], [' = 0.5', '13px ' + SERIF], ['m', 'italic 13px ' + SERIF],
                   ['0', '9px ' + SERIF, 3]], L.tx, r.y, 'left');
      });
    }
    ctx.restore();
  }
};

const panels = [
  { id: 'pa', letter: '(a)', letterX: 193, uPos: [202, 246], iPos: [9, 114], tickPad: 0,
    xMin: -48.5, xMax: 45.3, yMin: 1e-13, yMax: 1e-4, pad: { left: 0, right: 17, top: 20, bottom: 0 }, yW: 61, xH: 37,
    notes: notesA, leader: [[37.4, 3.2e-7], [35.8, 8.5e-8]],
    legend: { titleX: 185, titleY: 33, sx0: 102, sx1: 132, tx: 137,
              rows: [{ y: 52, dash: DASH, phi: '3.80' }, { y: 72, dash: DOT, phi: '3.15' }] },
    sets: [fit(fitA_left, DASH), fit(fitA_right, DOT), marks(a3, 'circle', RED, 1.9), marks(a2, 'triangle', BLACK, 2.6),
           marks(a1, 'rect', BLACK, 2.5)] },
  { id: 'pb', letter: '(b)', letterX: 202, uPos: [220, 246], iPos: [11, 110], tickPad: 0, oddOnly: true,
    xMin: -50, xMax: 50, yMin: 1e-13, yMax: 1e-4, pad: { left: 0, right: 8, top: 21, bottom: 0 }, yW: 71, xH: 37,
    notes: notesB,
    legend: { titleX: 186, titleY: 33, sx0: 104, sx1: 134, tx: 142,
              rows: [{ y: 51, dash: DASH, phi: '3.15' }, { y: 71, dash: DOT, phi: '3.80' }] },
    sets: [fit(fitB_left, DOT), fit(fitB_right, DASH), marks(b3, 'circle', RED, 1.9), marks(b2, 'triangle', BLACK, 2.6),
           marks(b1, 'rect', BLACK, 2.5)] },
  { id: 'pc', letter: '(c)', letterX: 192, uPos: [204, 259], iPos: [9, 130], tickPad: -1,
    xMin: -47.4, xMax: 33.7, yMin: 1e-13, yMax: 1e-5, pad: { left: 0, right: 17, top: 35, bottom: 0 }, yW: 61, xH: 42,
    notes: notesC,
    sets: [marks(c3, 'circle', RED, 1.5), marks(c2, 'triangle', BLACK, 1.9), marks(c1, 'rect', BLACK, 1.6)] },
  { id: 'pd', letter: '(d)', letterX: 202, uPos: [202, 259], iPos: [18, 133], tickPad: -1,
    xMin: -40, xMax: 32.6, yMin: 1e-12, yMax: 1e-5, pad: { left: 0, right: 17, top: 35, bottom: 0 }, yW: 71, xH: 41,
    notes: notesD,
    sets: [marks(d3, 'circle', RED, 1.7), marks(d2, 'triangle', BLACK, 1.9), marks(d1, 'rect', BLACK, 1.6)] },
  { id: 'pe', letter: '(e)', letterX: 190, uPos: [204, 257], iPos: [10, 113], tickPad: -3,
    xMin: -44.9, xMax: 40.6, yMin: 1e-14, yMax: 1e-5, pad: { left: 0, right: 17, top: 32, bottom: 0 }, yW: 61, xH: 40,
    notes: notesE,
    sets: [marks(e3, 'circle', RED, 1.5), marks(e2, 'triangle', BLACK, 1.9), marks(e1, 'rect', BLACK, 1.6)] },
  { id: 'pf', letter: '(f)', letterX: 202, uPos: [202, 257], iPos: [20, 128], tickPad: -3,
    xMin: -30, xMax: 40, yMin: 1e-12, yMax: 1e-4, pad: { left: 0, right: 8, top: 32, bottom: 0 }, yW: 71, xH: 40,
    notes: notesF,
    sets: [marks(f3, 'circle', RED, 1.6), marks(f2, 'triangle', BLACK, 1.9), marks(f1, 'rect', BLACK, 1.6)] }
];

panels.forEach(p => {
  new Chart(document.getElementById(p.id), {
    type: 'scatter',
    data: { datasets: p.sets },
    options: {
      panel: p,
      responsive: false,
      animation: false,
      events: [],
      layout: { padding: p.pad },
      plugins: { legend: { display: false }, tooltip: { enabled: false } },
      scales: {
        x: {
          type: 'linear', min: p.xMin, max: p.xMax,
          grid: { display: false },
          border: { display: true, color: AXIS, width: 1.3 },
          afterBuildTicks: s => {
            const t = [];
            for (let v = Math.ceil(s.min / 10) * 10; v <= s.max; v += 10) t.push({ value: v });
            s.ticks = t;
          },
          afterFit: s => { s.height = p.xH; },
          ticks: {
            padding: p.tickPad, color: TEXT, font: { family: SERIF, size: 15.5 }, maxRotation: 0, autoSkip: false,
            callback: v => {
              if (p.oddOnly && Math.abs(v / 10) % 2 !== 1) return '';
              return v < 0 ? '\u2212' + Math.abs(v) : String(v);
            }
          }
        },
        y: {
          type: 'logarithmic', min: p.yMin, max: p.yMax,
          grid: { display: false },
          border: { display: true, color: AXIS, width: 1.3 },
          ticks: { display: false },
          afterFit: s => { s.width = p.yW; }
        }
      }
    },
    plugins: [decor]
  });
});
</script>
</body>
</html>
